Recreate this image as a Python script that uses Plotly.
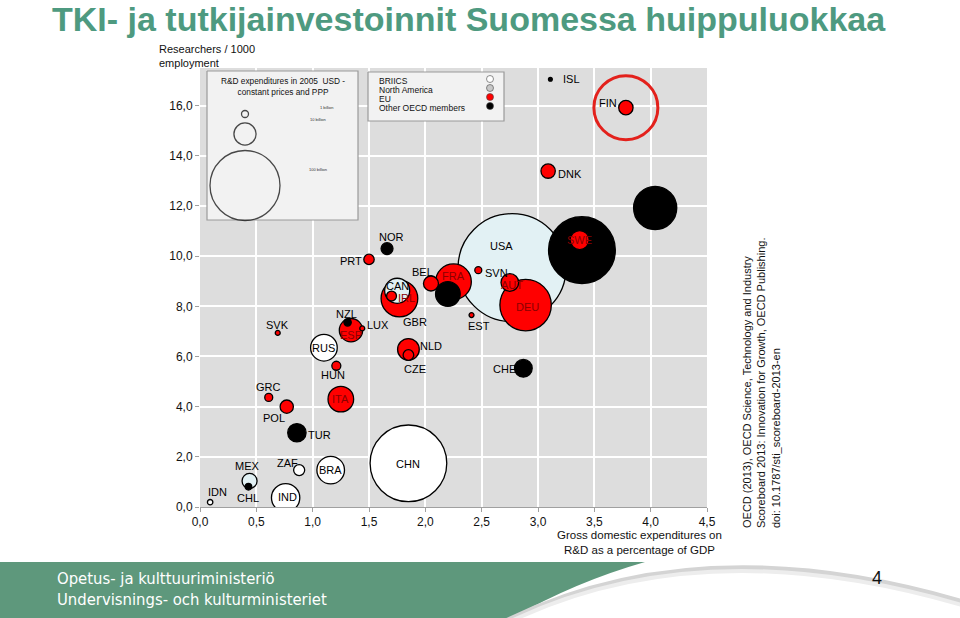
import plotly.graph_objects as go
import numpy as np

# ---------------- data ----------------
countries = ["NOR", "PRT", "BEL", "FRA", "AUS", "CAN", "GBR", "IRL", "NZL", "ESP",
             "LUX", "SVK", "RUS", "NLD", "CZE", "HUN", "EST", "SVN", "USA", "AUT",
             "DEU", "CHE", "JPN", "SWE", "KOR", "DNK", "FIN", "ISL", "GRC", "POL",
             "ITA", "TUR", "MEX", "CHL", "ZAF", "BRA", "CHN", "IND", "IDN"]
gerd_pct = [1.66, 1.50, 2.05, 2.25, 2.20, 1.75, 1.77, 1.70, 1.31, 1.34,
            1.44, 0.69, 1.10, 1.85, 1.85, 1.21, 2.41, 2.47, 2.77, 2.75,
            2.89, 2.87, 3.39, 3.37, 4.04, 3.09, 3.78, 3.11, 0.61, 0.77,
            1.25, 0.86, 0.44, 0.43, 0.88, 1.16, 1.85, 0.76, 0.09]
researchers = [10.30, 9.87, 8.91, 8.98, 8.49, 8.62, 8.31, 8.41, 7.36, 7.05,
               7.12, 6.94, 6.35, 6.28, 6.06, 5.63, 7.65, 9.44, 9.54, 8.95,
               8.05, 5.53, 10.24, 10.64, 11.92, 13.39, 15.92, 17.05, 4.37, 4.00,
               4.30, 2.96, 1.04, 0.81, 1.47, 1.47, 1.74, 0.37, 0.19]
rd_billion = [2.9, 2.2, 4.6, 26.0, 12.4, 12.8, 27.5, 2.0, 1.1, 11.1,
              0.5, 0.5, 14.5, 9.6, 2.3, 1.65, 0.5, 1.0, 238.0, 6.4,
              54.0, 6.4, 91.0, 7.4, 38.0, 4.2, 4.2, 0.3, 1.3, 3.6,
              13.4, 6.9, 4.6, 0.9, 2.5, 15.6, 120.0, 16.4, 0.6]
groups = ["OECD", "EU", "EU", "EU", "OECD", "NA", "EU", "EU", "OECD", "EU",
          "EU", "EU", "BRIICS", "EU", "EU", "EU", "EU", "EU", "NA", "EU",
          "EU", "OECD", "OECD", "EU", "OECD", "EU", "EU", "OECD", "EU", "EU",
          "EU", "OECD", "NA", "OECD", "BRIICS", "BRIICS", "BRIICS", "BRIICS", "BRIICS"]
unlabelled = ["AUS", "JPN", "KOR"]
highlight = "FIN"

x_ticks = [0.0, 0.5, 1.0, 1.5, 2.0, 2.5, 3.0, 3.5, 4.0, 4.5]
y_ticks = [0, 2, 4, 6, 8, 10, 12, 14, 16]

legend_billion = [1, 10, 100]
legend_billion_text = ["1 billion", "10 billion", "100 billion"]
legend_groups = ["BRIICS", "North America", "EU", "Other OECD members"]
legend_group_keys = ["BRIICS", "NA_LEG", "EU", "OECD"]

# ---------------- styles ----------------
FONT = "Liberation Sans, Arial, sans-serif"
fill_col = {"BRIICS": "#FFFFFF", "NA": "#E2F1F4", "EU": "#FF0000", "OECD": "#000000",
            "NA_LEG": "#C8C8C8"}
SIZEREF = 1 / 24.5  # 1 billion -> ~7 px diameter

# label offsets in pixels (dx, dy up)
label_pos = {
    "NOR": (4, 12), "PRT": (-18, -2), "BEL": (-8, 11), "FRA": (0, 6), "CAN": (0, 5),
    "IRL": (15, -2), "GBR": (16, -23), "NZL": (-1, 8), "LUX": (16, 3), "ESP": (0, -5),
    "SVK": (0, 8), "RUS": (0, 0), "NLD": (23, 3), "CZE": (7, -14), "HUN": (-3, -9),
    "EST": (7, -11), "SVN": (18, -3), "USA": (-11, 22), "AUT": (2, -3), "DEU": (2, -2),
    "CHE": (-19, -1), "SWE": (0, 0), "DNK": (22, -3), "FIN": (-18, 5), "ISL": (21, 0),
    "GRC": (0, 10), "POL": (-13, -11), "ITA": (0, 0), "TUR": (23, -2), "MEX": (-2, 15),
    "CHL": (0, -11), "ZAF": (-12, 7), "BRA": (0, 0), "CHN": (0, -1), "IND": (2, 1),
    "IDN": (7, 10),
}
inside_red = {"FRA", "ESP", "AUT", "DEU", "SWE", "ITA", "IRL"}

# plot area in pixels
L, R, T, B = 200, 707, 68, 507
W, H = 960, 618


def pxx(x):
    return (x - L) / (R - L)


def pxy(y):
    return (B - y) / (B - T)


fig = go.Figure()

# main bubbles, largest first so small ones sit on top
order = np.argsort(-np.array(rd_billion), kind="stable")
fig.add_trace(go.Scatter(
    x=[gerd_pct[i] for i in order],
    y=[researchers[i] for i in order],
    mode="markers",
    marker=dict(size=[rd_billion[i] for i in order], sizemode="area", sizeref=SIZEREF,
                color=[fill_col[groups[i]] for i in order],
                line=dict(color="#000000", width=1.3), opacity=1),
    cliponaxis=True, hoverinfo="text",
    text=[countries[i] for i in order], showlegend=False,
))

# highlight ring around Finland
hi = countries.index(highlight)
fig.add_trace(go.Scatter(
    x=[gerd_pct[hi]], y=[researchers[hi]], mode="markers",
    marker=dict(size=64, color="rgba(0,0,0,0)", line=dict(color="#E3211C", width=3)),
    showlegend=False, hoverinfo="skip"))

# ---------------- inset legends (overlay axes in pixel units) ----------------
def box(x0, y0, x1, y1):
    fig.add_trace(go.Scatter(
        x=[x0, x1, x1, x0, x0], y=[y0, y0, y1, y1, y0], xaxis="x2", yaxis="y2",
        mode="lines", fill="toself", fillcolor="#F2F2F2",
        line=dict(color="#9A9A9A", width=1.2), showlegend=False, hoverinfo="skip"))


box(207, 71, 358, 220)
box(368, 72, 504, 121)

fig.add_trace(go.Scatter(
    x=[245, 245, 245], y=[114, 134, 185.5], xaxis="x2", yaxis="y2", mode="markers",
    marker=dict(size=legend_billion, sizemode="area", sizeref=SIZEREF,
                color="rgba(0,0,0,0)", line=dict(color="#000000", width=1.3)),
    showlegend=False, hoverinfo="skip"))

fig.add_trace(go.Scatter(
    x=[490] * 4, y=[79, 88, 97, 106], xaxis="x2", yaxis="y2", mode="markers",
    marker=dict(size=7, color=[fill_col[k] for k in legend_group_keys],
                line=dict(color="#444444", width=0.6)),
    showlegend=False, hoverinfo="skip"))

annotations = []

# legend texts
annotations.append(dict(x=pxx(283), y=pxy(87), xref="paper", yref="paper",
                        text="R&D expenditures in 2005  USD -<br>constant prices and PPP",
                        showarrow=False, font=dict(family=FONT, size=8.3, color="#111"),
                        align="center", xanchor="center", yanchor="middle"))
for t, (lx, ly) in zip(legend_billion_text, [(327, 107), (318, 119), (318, 169)]):
    annotations.append(dict(x=pxx(lx), y=pxy(ly), xref="paper", yref="paper", text=t,
                            showarrow=False, font=dict(family=FONT, size=4, color="#333"),
                            xanchor="center", yanchor="middle"))
for t, ly in zip(legend_groups, [81, 90, 99, 108]):
    annotations.append(dict(x=pxx(377), y=pxy(ly), xref="paper", yref="paper", text=t,
                            showarrow=False, font=dict(family=FONT, size=8.5, color="#111"),
                            xanchor="left", yanchor="middle"))

# country labels
for i, c in enumerate(countries):
    if c in unlabelled:
        continue
    dx, dy = label_pos[c]
    annotations.append(dict(x=gerd_pct[i], y=researchers[i], xref="x", yref="y", text=c,
                            showarrow=False, xshift=dx, yshift=dy,
                            font=dict(family=FONT, size=11,
                                      color="#8B0000" if c in inside_red else "#000000"),
                            xanchor="center", yanchor="middle"))

# axis titles
annotations.append(dict(x=pxx(157), y=pxy(56), xref="paper", yref="paper",
                        text="Researchers / 1000<br>employment", showarrow=False, align="left",
                        font=dict(family=FONT, size=11, color="#111"),
                        xanchor="left", yanchor="middle"))
annotations.append(dict(x=pxx(639), y=pxy(542), xref="paper", yref="paper",
                        text="Gross domestic expenditures on<br>R&D as a percentage of GDP",
                        showarrow=False, align="center",
                        font=dict(family=FONT, size=11.5, color="#111"),
                        xanchor="center", yanchor="middle"))

# source (rotated)
annotations.append(dict(x=pxx(761), y=pxy(383), xref="paper", yref="paper",
                        text="OECD (2013), OECD Science, Technology and Industry<br>"
                             "Scoreboard 2013: Innovation for Growth, OECD Publishing.<br>"
                             "doi: 10.1787/sti_scoreboard-2013-en",
                        textangle=-90, showarrow=False, align="left",
                        font=dict(family=FONT, size=11, color="#111"),
                        xanchor="center", yanchor="middle"))

# title
annotations.append(dict(x=pxx(50), y=pxy(18.5), xref="paper", yref="paper",
                        text="<b>TKI- ja tutkijainvestoinnit Suomessa huippuluokkaa</b>",
                        showarrow=False, font=dict(family=FONT, size=34, color="#4E9A80"),
                        xanchor="left", yanchor="middle"))

# footer texts
annotations.append(dict(x=pxx(55), y=pxy(589), xref="paper", yref="paper",
                        text="Opetus- ja kulttuuriministeriö<br>Undervisnings- och kulturministeriet",
                        showarrow=False, align="left",
                        font=dict(family="Liberation Sans Narrow, DejaVu Sans Condensed, Roboto, " + FONT,
                                  size=16.5, color="#FFFFFF"),
                        xanchor="left", yanchor="middle"))
annotations.append(dict(x=pxx(877), y=pxy(578), xref="paper", yref="paper", text="4",
                        showarrow=False, font=dict(family=FONT, size=18, color="#111"),
                        xanchor="center", yanchor="middle"))

shapes = [
    dict(type="path", xref="paper", yref="paper", layer="below",
         path=(f"M {pxx(0)},{pxy(562)} L {pxx(645)},{pxy(562)} "
               f"Q {pxx(575)},{pxy(582)} {pxx(512)},{pxy(618)} L {pxx(0)},{pxy(618)} Z"),
         fillcolor="#5E987C", line=dict(width=0)),
    dict(type="path", xref="paper", yref="paper", layer="below",
         path=f"M {pxx(505)},{pxy(622)} Q {pxx(700)},{pxy(525)} {pxx(965)},{pxy(603)}",
         line=dict(color="#D4D4D4", width=6)),
    dict(type="path", xref="paper", yref="paper", layer="below",
         path=f"M {pxx(505)},{pxy(624)} Q {pxx(700)},{pxy(528)} {pxx(965)},{pxy(606)}",
         line=dict(color="#EDEDED", width=4)),
]

fig.update_layout(
    width=W, height=H,
    margin=dict(l=L, r=W - R, t=T, b=H - B, pad=0),
    paper_bgcolor="#FFFFFF", plot_bgcolor="#DDDDDD",
    separators=", ",
    showlegend=False,
    font=dict(family=FONT, size=12, color="#111"),
    xaxis=dict(range=[0, 4.5], tickvals=x_ticks, tickformat=".1f", showgrid=True,
               gridcolor="#FFFFFF", gridwidth=1.5, zeroline=False, showline=True,
               linecolor="#A0A0A0", linewidth=1, ticks="outside", ticklen=4,
               tickcolor="#A0A0A0", tickfont=dict(family=FONT, size=12, color="#111")),
    yaxis=dict(range=[0, 17.5], tickvals=y_ticks, tickformat=".1f", showgrid=True,
               gridcolor="#FFFFFF", gridwidth=1.5, zeroline=False, showline=False,
               ticks="outside", ticklen=4, tickcolor="#A0A0A0",
               tickfont=dict(family=FONT, size=12, color="#111")),
    xaxis2=dict(overlaying="x", anchor="y2", range=[L, R], visible=False),
    yaxis2=dict(overlaying="y", anchor="x2", range=[B, T], visible=False),
    annotations=annotations,
    shapes=shapes,
)

fig.write_html("out.html",
               config={"displayModeBar": False},
               post_script="document.body.style.margin='0';document.body.style.padding='0';"
                           "document.body.style.overflow='hidden';")
